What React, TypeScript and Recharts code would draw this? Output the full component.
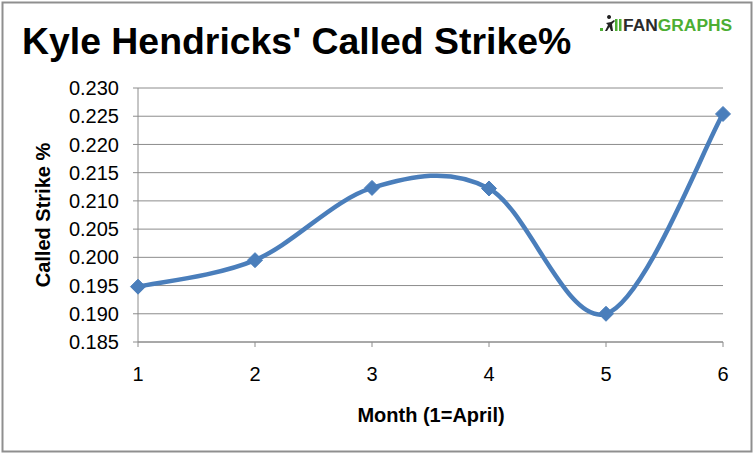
import { LineChart, Line, XAxis, YAxis, CartesianGrid } from "recharts";

const months = [1, 2, 3, 4, 5, 6];
const calledStrikePct = [0.1948, 0.1995, 0.2123, 0.2122, 0.19, 0.2254];
const yTicks = [0.185, 0.19, 0.195, 0.2, 0.205, 0.21, 0.215, 0.22, 0.225, 0.23];

const data = months.map((m, i) => ({ month: m, pct: calledStrikePct[i] }));

const BLUE = "#4a7ebb";
const GRID = "#8c8c8c";
const GREEN = "#4cae33";
const FONT = "'Liberation Sans', Arial, sans-serif";

// Excel-style smoothed line (uniform Catmull-Rom as cubic beziers)
function excelSmooth(context: any) {
  let pts: [number, number][] = [];
  return {
    areaStart() {},
    areaEnd() {},
    lineStart() {
      pts = [];
    },
    lineEnd() {
      if (!pts.length) return;
      context.moveTo(pts[0][0], pts[0][1]);
      for (let i = 0; i < pts.length - 1; i++) {
        const p0 = pts[i - 1] || pts[i];
        const p1 = pts[i];
        const p2 = pts[i + 1];
        const p3 = pts[i + 2] || p2;
        context.bezierCurveTo(
          p1[0] + (p2[0] - p0[0]) / 6,
          p1[1] + (p2[1] - p0[1]) / 6,
          p2[0] - (p3[0] - p1[0]) / 6,
          p2[1] - (p3[1] - p1[1]) / 6,
          p2[0],
          p2[1]
        );
      }
    },
    point(x: number, y: number) {
      pts.push([x, y]);
    },
  };
}

const Diamond = (props: any) => {
  const { cx, cy } = props;
  if (cx == null || cy == null) return null;
  const r = 7.5;
  return (
    <polygon
      points={`${cx},${cy - r} ${cx + r},${cy} ${cx},${cy + r} ${cx - r},${cy}`}
      fill={BLUE}
      stroke={BLUE}
      strokeWidth={1}
    />
  );
};

export default function App() {
  return (
    <div
      style={{
        position: "absolute",
        left: 0,
        top: 0,
        width: 754,
        height: 453,
        background: "#fff",
        fontFamily: FONT,
      }}
    >
      <LineChart
        width={754}
        height={453}
        data={data}
        margin={{ top: 88, right: 31, bottom: 71, left: 0 }}
      >
        <CartesianGrid vertical={false} stroke={GRID} strokeWidth={1} />
        <XAxis
          dataKey="month"
          type="number"
          domain={[1, 6]}
          ticks={months}
          height={40}
          stroke={GRID}
          tickSize={5}
          tickMargin={20}
          tick={{ fill: "#000", fontSize: 20, fontFamily: FONT }}
        />
        <YAxis
          type="number"
          domain={[0.185, 0.23]}
          ticks={yTicks}
          width={138}
          stroke={GRID}
          tickSize={5}
          tickMargin={14}
          tickFormatter={(v: number) => v.toFixed(3)}
          tick={{ fill: "#000", fontSize: 20, fontFamily: FONT }}
        />
        <Line
          dataKey="pct"
          type={excelSmooth as any}
          stroke={BLUE}
          strokeWidth={4.5}
          dot={<Diamond />}
          activeDot={false}
          isAnimationActive={false}
        />
      </LineChart>
      <svg
        width={754}
        height={453}
        style={{ position: "absolute", left: 0, top: 0, pointerEvents: "none" }}
      >
        <rect x={2.5} y={2.5} width={749} height={449} fill="none" stroke="#8f8f8f" strokeWidth={2} />
        <text x={22} y={54} fontSize={37.4} fontWeight="bold" fill="#000" fontFamily={FONT}>
          Kyle Hendricks' Called Strike%
        </text>
        {/* fangraphs logo */}
        <rect x={600} y={28} width={3} height={3} fill={GREEN} />
        <path
          d="M609 19 a2 2 0 1 1 0.1 0 Z M606 23 L611 22 L614 20 L615 21 L612 24 L613 31 L611 31 L609.5 27 L607 31 L605 31 L608 25 Z"
          fill="#222"
        />
        <rect x={615} y={19} width={2.5} height={12} fill={GREEN} />
        <rect x={619} y={19} width={2.5} height={12} fill={GREEN} />
        <text x={623} y={31} fontSize={17.4} fontWeight="bold" fontFamily={FONT}>
          <tspan fill="#2b2b2b">FAN</tspan>
          <tspan fill={GREEN}>GRAPHS</tspan>
        </text>
        <text
          x={0}
          y={0}
          transform="translate(50 215) rotate(-90)"
          textAnchor="middle"
          fontSize={20}
          fontWeight="bold"
          fill="#000"
          fontFamily={FONT}
        >
          Called Strike %
        </text>
        <text x={431} y={422} textAnchor="middle" fontSize={20} fontWeight="bold" fill="#000" fontFamily={FONT}>
          Month (1=April)
        </text>
      </svg>
    </div>
  );
}
